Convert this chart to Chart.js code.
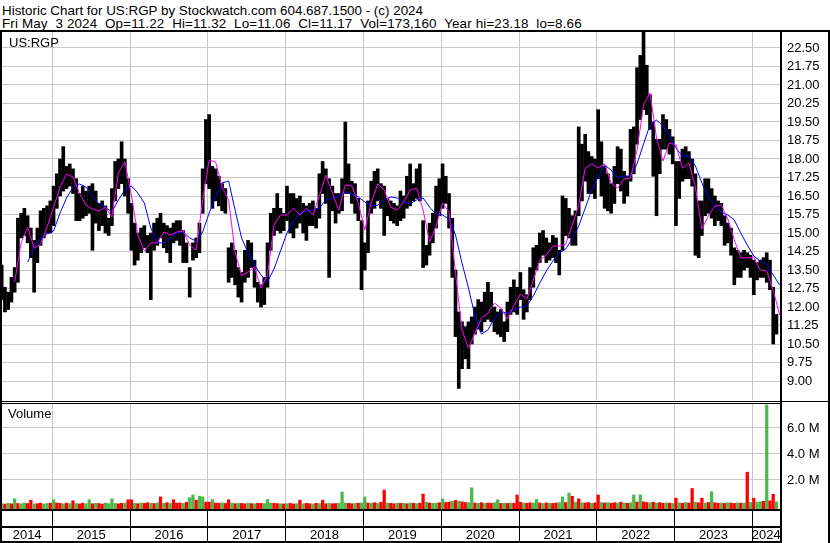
<!DOCTYPE html>
<html lang="en">
<head>
<meta charset="UTF-8">
<title>US:RGP historic chart</title>
<script src="https://cdn.jsdelivr.net/npm/chart.js"></script>
<style>
    body { margin: 0; width: 830px; height: 543px; background: #fff; position: relative; overflow: hidden;
           font-family: "Liberation Sans", Arial, sans-serif; }
    #head { position: absolute; left: 2px; top: 5px; font-size: 13.4px; line-height: 12.5px; white-space: pre; color: #000; }
    #head span { letter-spacing: 0.15px; }
    #priceBox { position: absolute; left: 0; top: 29px; }
    #volBox { position: absolute; left: 0; top: 401px; }
</style>
</head>
<body>
<div id="head">Historic Chart for US:RGP by Stockwatch.com 604.687.1500 - (c) 2024
<span>Fri May  3 2024  Op=11.22  Hi=11.32  Lo=11.06  Cl=11.17  Vol=173,160  Year hi=23.18  lo=8.66</span></div>
<div id="priceBox"><canvas id="price" width="830" height="372"></canvas></div>
<div id="volBox"><canvas id="vol" width="830" height="142"></canvas></div>
<script>
// half-month buckets starting mid May 2014 (one entry = 1/24 year)
const startYear = 2014.35;
const xMin = 2014.354, xMax = 2024.354;
const yearLines = [2015, 2016, 2017, 2018, 2019, 2020, 2021, 2022, 2023, 2024];
const yearLabels = ['2014', '2015', '2016', '2017', '2018', '2019', '2020', '2021', '2022', '2023', '2024'];
const priceTicks = [9.00, 9.75, 10.50, 11.25, 12.00, 12.75, 13.50, 14.25, 15.00, 15.75, 16.50,
                    17.25, 18.00, 18.75, 19.50, 20.25, 21.00, 21.75, 22.50];
const volTicks = [2000000, 4000000, 6000000];

// high of each half-month
const hi = [
    13.7, 12.8, 12.6, 13.2, 13.6, 15.6, 15.8, 16.0, 15.7, 15.2, 14.7, 15.2, 15.9, 16.0, 16.1, 16.3, // 2014
    16.9, 17.4, 18.0, 18.5, 17.7, 17.8, 17.6, 17.2, 16.6, 16.9, 16.7, 16.9, 17.0, 16.7, 16.2, 16.3, 16.1, 15.6, 16.8, 17.9, 18.0, 18.7, 18.0, 17.2, // 2015
    16.2, 15.4, 15.0, 15.2, 15.3, 14.9, 15.0, 15.4, 15.6, 15.8, 15.4, 15.3, 15.2, 15.4, 15.5, 15.5, 15.1, 14.6, 13.6, 14.6, 14.8, 15.4, 17.6, 19.6, // 2016
    19.8, 17.7, 17.6, 17.3, 17.0, 16.8, 14.4, 14.6, 14.3, 13.6, 13.4, 14.3, 14.7, 14.6, 13.9, 13.0, 12.9, 13.2, 14.6, 15.8, 16.0, 16.6, 16.0, 15.8, // 2017
    16.9, 16.6, 16.6, 16.4, 16.5, 16.2, 16.1, 16.2, 16.3, 16.0, 17.4, 17.9, 17.6, 17.2, 16.9, 16.6, 16.6, 17.2, 19.5, 17.8, 17.1, 17.0, 16.4, 15.5, // 2018
    14.6, 16.3, 17.1, 17.5, 17.6, 17.0, 16.9, 16.4, 16.3, 16.2, 16.1, 16.7, 16.5, 17.3, 17.8, 17.0, 17.6, 17.8, 15.5, 14.5, 15.4, 15.8, 16.9, 17.2, // 2019
    17.8, 17.3, 16.6, 15.6, 13.5, 11.8, 11.4, 11.2, 11.4, 11.6, 12.0, 12.3, 12.2, 12.6, 13.0, 12.6, 12.0, 11.8, 11.9, 11.4, 12.2, 12.8, 13.1, 12.8, // 2020
    13.4, 12.7, 12.5, 13.6, 14.4, 14.5, 15.0, 15.1, 14.8, 14.6, 14.9, 14.8, 14.3, 16.5, 16.4, 16.0, 15.7, 15.9, 19.3, 18.6, 19.0, 18.3, 18.1, 18.0, // 2021
    20.0, 18.7, 17.7, 17.4, 17.0, 17.7, 18.5, 18.4, 17.5, 17.3, 19.2, 19.3, 21.7, 22.2, 23.18, 21.8, 20.6, 19.5, 18.8, 18.8, 19.8, 19.6, 19.2, 18.9, // 2022
    17.9, 17.9, 18.4, 18.5, 18.3, 18.0, 17.4, 16.3, 16.3, 17.2, 17.2, 16.8, 16.5, 16.3, 16.2, 15.7, 15.4, 15.2, 14.4, 14.3, 14.2, 14.3, 14.2, 14.1, // 2023
    13.9, 13.8, 13.9, 14.0, 14.2, 13.9, 12.8, 11.7 // 2024
];
// low of each half-month
const lo = [
    12.3, 11.8, 11.9, 12.2, 12.6, 13.0, 14.8, 14.9, 14.6, 14.0, 12.6, 13.8, 14.5, 14.8, 15.0, 15.0,
    15.3, 16.0, 16.5, 16.7, 16.8, 16.9, 16.6, 15.5, 15.5, 15.6, 15.7, 15.8, 14.3, 15.4, 15.1, 15.3, 15.0, 14.9, 15.3, 16.3, 16.8, 17.0, 16.5, 15.8,
    14.3, 13.7, 13.9, 14.2, 14.4, 14.2, 12.3, 14.3, 14.5, 14.8, 14.4, 14.2, 13.8, 14.6, 14.7, 14.5, 13.8, 13.8, 12.4, 13.9, 14.0, 14.2, 15.8, 17.0,
    16.8, 16.0, 16.3, 16.1, 15.9, 15.8, 13.0, 13.2, 12.9, 12.4, 12.2, 13.0, 13.2, 13.6, 12.8, 12.2, 12.0, 12.1, 12.8, 14.3, 14.9, 15.1, 15.0, 15.1,
    15.5, 15.0, 14.8, 15.2, 15.4, 15.0, 14.7, 15.3, 15.3, 15.2, 15.6, 16.6, 16.2, 13.2, 15.9, 15.4, 15.8, 15.9, 16.6, 16.6, 16.2, 15.8, 15.5, 12.7,
    13.5, 14.2, 15.8, 16.0, 16.3, 16.0, 14.9, 15.7, 15.5, 15.4, 15.3, 15.5, 15.6, 16.0, 16.1, 16.3, 16.4, 16.3, 13.6, 13.7, 14.1, 14.6, 15.2, 15.7,
    16.0, 16.2, 15.2, 13.2, 10.8, 8.7, 9.5, 9.9, 9.5, 10.5, 10.9, 11.1, 11.0, 11.4, 11.5, 11.4, 11.0, 10.9, 10.8, 10.6, 11.0, 11.7, 11.8, 11.7,
    12.3, 11.5, 11.8, 12.3, 12.8, 13.5, 13.8, 14.1, 13.8, 13.9, 14.0, 13.8, 13.3, 14.3, 14.9, 14.8, 14.5, 14.5, 15.7, 16.3, 17.1, 16.6, 16.6, 16.4,
    17.2, 16.5, 16.0, 15.9, 15.8, 16.2, 17.0, 16.7, 16.2, 16.5, 17.1, 17.4, 18.6, 19.6, 20.0, 19.8, 19.2, 17.3, 15.7, 17.4, 18.4, 18.4, 18.2, 17.8,
    15.3, 16.4, 17.1, 17.2, 17.2, 16.9, 14.1, 14.0, 14.9, 15.7, 15.8, 15.6, 15.3, 15.5, 15.3, 14.5, 14.6, 14.1, 12.9, 13.2, 13.2, 13.5, 13.6, 13.2,
    12.5, 13.1, 13.2, 13.2, 13.0, 12.7, 10.5, 10.9
];
// volume per half-month, thousands of shares
const volK = [
    180, 150, 210, 170, 550, 190, 170, 230, 190, 450, 160, 180, 210, 150, 190, 220,
    480, 230, 200, 170, 220, 180, 400, 200, 160, 210, 180, 480, 170, 210, 190, 150, 220, 180, 550, 200, 170, 210, 230, 480,
    480, 210, 180, 230, 200, 250, 220, 190, 230, 700, 210, 260, 200, 480, 220, 240, 200, 280, 650, 850, 450, 750, 700, 300,
    300, 500, 230, 210, 250, 200, 480, 230, 180, 210, 200, 170, 220, 190, 170, 210, 200, 180, 500, 230, 210, 190, 170, 160,
    170, 200, 160, 180, 450, 170, 200, 180, 150, 210, 190, 450, 170, 200, 170, 190, 210, 1080, 230, 200, 180, 200, 210, 230,
    700, 230, 210, 250, 200, 290, 1230, 230, 200, 180, 220, 200, 210, 170, 230, 200, 180, 210, 920, 290, 230, 200, 210, 250,
    550, 270, 300, 360, 430, 370, 320, 270, 250, 1400, 230, 210, 260, 200, 230, 210, 250, 480, 200, 220, 200, 230, 210, 850,
    290, 230, 210, 250, 220, 500, 230, 200, 240, 210, 200, 230, 260, 700, 270, 1000, 750, 290, 550, 250, 230, 270, 210, 240,
    850, 270, 230, 260, 210, 250, 230, 290, 230, 210, 250, 850, 300, 850, 320, 270, 250, 290, 230, 260, 210, 240, 220, 210,
    600, 250, 210, 270, 230, 1350, 290, 250, 600, 230, 270, 1100, 250, 210, 230, 200, 260, 220, 200, 240, 210, 230, 2600, 270,
    600, 300, 320, 360, 7770, 400, 900, 320
];
// g = up, r = down
const volDir = 'grgrgrggrrgrrggr' +
    'grrgrgrgrrggrgrrggggrrgr' + 'rgrgrrgrgrgrgrrrgrggrggr' + 'rgrrgrrgrgrrgrgrrgggrrgr' +
    'grrgrgrrgrgrrgrrgggrrgrg' + 'grgrgrrgrrgrgrgrgrrgrggr' + 'grrgrgrrggrgrgrrggrgrgrr' +
    'rgrrggrgrgrrggrgrgrgrrgr' + 'rgrgrrgrgrggrgrrgrgrrgrg' + 'rgrgrrgrrgrgrrgrgrrgrgrg' + 'rggrgrrg';

// moving averages, one value per month from startYear
const maFast = [null, null,
    13.02, 14.60, 15.24, 14.39, 14.55, 15.24, 16.05, 16.86, 17.39, 17.27, 16.62, 16.13, 15.97, 15.89, 16.05, 15.65, 17.43, 17.88,
    16.54, 14.92, 14.27, 14.60, 14.60, 15.04, 14.92, 15.04, 15.08, 14.51, 14.31, 16.34, 17.96, 17.88, 16.86, 16.34, 14.23, 13.26,
    13.42, 13.62, 12.77, 13.30, 15.32, 15.73, 15.73, 16.01, 15.73, 16.01, 15.73, 16.50, 17.35, 16.62, 15.93, 16.95, 16.91, 16.22,
    15.12, 16.22, 16.99, 16.74, 16.05, 15.93, 16.26, 16.74, 16.82, 15.93, 14.64, 15.28, 16.22, 15.85, 13.38, 11.07, 10.33, 10.94,
    11.55, 11.75, 12.16, 11.96, 11.51, 12.07, 12.52, 12.32, 13.09, 13.90, 14.10, 14.47, 14.47, 14.55, 15.32, 16.13, 17.63, 17.80,
    17.63, 17.80, 17.03, 16.82, 17.19, 17.23, 18.37, 20.19, 20.68, 18.85, 17.92, 18.65, 18.57, 17.63, 17.84, 16.86, 15.16, 15.69,
    16.09, 16.13, 15.57, 14.72, 13.99, 13.99, 14.03, 13.50, 13.46, 12.68, 11.67];
const maSlow = [null, null, null, null,
    13.82, 14.39, 14.80, 14.96, 15.08, 15.81, 16.42, 16.86, 16.99, 16.86, 16.50, 16.18, 16.05, 15.85, 16.34, 16.74, 16.91, 16.62,
    16.22, 15.20, 14.60, 14.60, 14.80, 15.00, 15.04, 14.80, 14.67, 15.04, 15.81, 16.46, 17.03, 17.11, 15.93, 14.80, 14.19, 13.70,
    13.30, 13.02, 13.54, 14.27, 15.00, 15.49, 15.81, 15.89, 15.93, 16.01, 16.34, 16.42, 16.50, 16.66, 16.58, 16.46, 16.26, 16.09,
    16.13, 16.34, 16.46, 16.42, 16.26, 16.18, 16.34, 16.42, 16.05, 15.77, 15.73, 15.57, 14.92, 13.78, 12.77, 11.63, 10.90, 11.07,
    11.55, 11.80, 11.75, 11.88, 12.00, 12.04, 12.45, 12.97, 13.46, 13.86, 14.19, 14.35, 14.76, 15.28, 16.01, 16.74, 17.27, 17.76,
    17.55, 17.23, 17.31, 17.31, 17.80, 18.61, 19.38, 19.58, 19.34, 18.93, 18.45, 18.12, 18.12, 17.72, 17.03, 16.42, 16.13, 15.85,
    15.73, 15.53, 15.00, 14.51, 14.07, 13.86, 13.70, 13.30, 12.89];

const FONT = '"Liberation Sans", Arial, sans-serif';
const GRID = '#c8c8c8';

const priceBars = hi.map((h, i) => ({ x: startYear + i / 24, y: [lo[i], h] }));
const fastLine = maFast.map((v, k) => ({ x: startYear + k / 12, y: v }));
const slowLine = maSlow.map((v, k) => ({ x: startYear + k / 12, y: v }));
const volBars = volK.map((v, i) => ({ x: startYear + i / 24, y: v * 1000 }));
const volColors = volK.map((v, i) => volDir[i] === 'g' ? '#4cb84c' : '#ff0000');

// x axis shared by both panels: grid at year starts only
function xAxis() {
    return {
        type: 'linear', min: xMin, max: xMax, offset: false, bounds: 'data',
        grid: { color: GRID, drawTicks: false, offset: false },
        border: { display: false },
        ticks: { display: false },
        afterBuildTicks: s => { s.ticks = yearLines.map(v => ({ value: v })); },
        afterFit: s => { s.height = 0; s.paddingLeft = 0; s.paddingRight = 0; }
    };
}

const priceFrame = {
    id: 'priceFrame',
    afterDraw(chart) {
        const ctx = chart.ctx;
        ctx.save();
        ctx.fillStyle = '#000';
        ctx.fillRect(0, 1, 830, 2);
        ctx.fillRect(0, 1, 2, 371);
        ctx.fillRect(780, 1, 2, 371);
        ctx.fillRect(828, 1, 2, 371);
        ctx.font = '13px ' + FONT;
        ctx.textAlign = 'left';
        ctx.fillText('US:RGP', 9, 17.5);
        ctx.restore();
    }
};

const volFrame = {
    id: 'volFrame',
    afterDraw(chart) {
        const ctx = chart.ctx, xs = chart.scales.x;
        ctx.save();
        ctx.fillStyle = '#000';
        ctx.fillRect(0, 0, 830, 1);
        ctx.fillRect(0, 2, 781, 1);
        ctx.fillRect(0, 108, 782, 2);
        ctx.fillRect(0, 125, 782, 2);
        ctx.fillRect(0, 140, 782, 2);
        yearLines.forEach(v => ctx.fillRect(Math.floor(xs.getPixelForValue(v)), 110, 1, 30));
        ctx.fillRect(0, 0, 2, 142);
        ctx.fillRect(780, 0, 2, 142);
        ctx.fillRect(828, 0, 2, 142);
        ctx.font = '13px ' + FONT;
        ctx.textAlign = 'center';
        const edges = [xMin].concat(yearLines, [xMax]);
        yearLabels.forEach((lab, j) => {
            const a = xs.getPixelForValue(edges[j]), b = xs.getPixelForValue(edges[j + 1]);
            ctx.fillText(lab, (a + b) / 2, 138);
        });
        ctx.textAlign = 'left';
        ctx.fillText('Volume', 8, 17);
        ctx.restore();
    }
};

new Chart(document.getElementById('price'), {
    type: 'bar',
    data: {
        datasets: [
            { type: 'line', data: fastLine, borderColor: '#ff00ff', borderWidth: 1, pointRadius: 0, order: 1 },
            { type: 'line', data: slowLine, borderColor: '#0000ff', borderWidth: 1, pointRadius: 0, order: 2 },
            { type: 'bar', data: priceBars, backgroundColor: '#000', barThickness: 3, order: 3 }
        ]
    },
    options: {
        responsive: false, animation: false, devicePixelRatio: 1,
        layout: { padding: { left: 2, top: 2, bottom: 1, right: 0 } },
        plugins: { legend: { display: false }, tooltip: { enabled: false } },
        scales: {
            x: xAxis(),
            y: {
                position: 'right', min: 8.23, max: 23.189, bounds: 'data',
                grid: { color: GRID, drawTicks: false },
                border: { display: false },
                ticks: { color: '#000', padding: 7, font: { family: FONT, size: 13 }, callback: v => v.toFixed(2) },
                afterBuildTicks: s => { s.ticks = priceTicks.map(v => ({ value: v })); },
                afterFit: s => { s.width = 50; s.paddingTop = 0; s.paddingBottom = 0; }
            }
        }
    },
    plugins: [priceFrame]
});

new Chart(document.getElementById('vol'), {
    type: 'bar',
    data: {
        datasets: [
            { data: volBars, backgroundColor: volColors, barThickness: 2.6, base: -230800 }
        ]
    },
    options: {
        responsive: false, animation: false, devicePixelRatio: 1,
        layout: { padding: { left: 2, top: 2, bottom: 34, right: 0 } },
        plugins: { legend: { display: false }, tooltip: { enabled: false } },
        scales: {
            x: xAxis(),
            y: {
                position: 'right', min: -230800, max: 7923000, bounds: 'data',
                grid: { color: GRID, drawTicks: false },
                border: { display: false },
                ticks: { color: '#000', padding: 7, font: { family: FONT, size: 13 }, callback: v => (v / 1000000).toFixed(1) + ' M' },
                afterBuildTicks: s => { s.ticks = volTicks.map(v => ({ value: v })); },
                afterFit: s => { s.width = 50; s.paddingTop = 0; s.paddingBottom = 0; }
            }
        }
    },
    plugins: [volFrame]
});
</script>
</body>
</html>
